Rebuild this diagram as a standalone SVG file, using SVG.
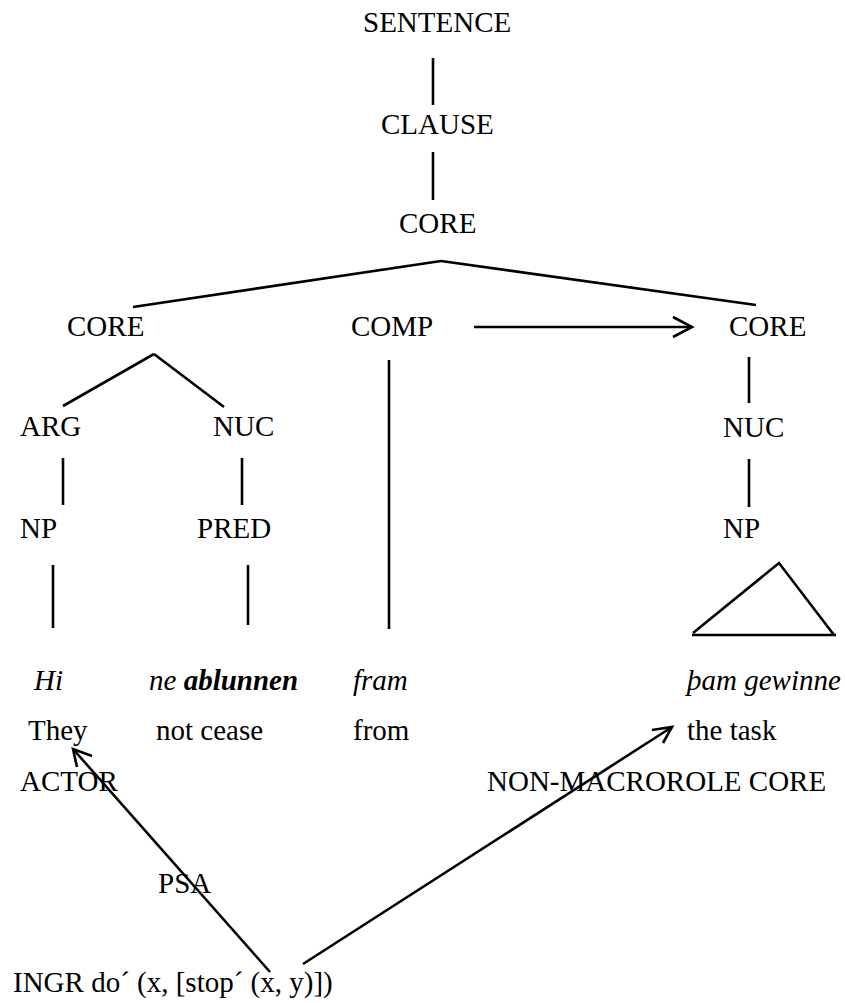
<svg xmlns="http://www.w3.org/2000/svg" width="845" height="1003" viewBox="0 0 845 1003">
  <defs>
    <style>
      text { font-family: "Liberation Serif", "Times New Roman", serif; font-size: 29px; fill: #000; }
      .it { font-style: italic; }
      .bi { font-style: italic; font-weight: bold; }
      line, path { stroke: #000; stroke-width: 2.6; fill: none; }
    </style>
  </defs>
  <rect width="845" height="1003" fill="#fff"/>

  <!-- tree branches and links -->
  <g id="connectors">
    <line x1="433" y1="58" x2="433" y2="105"/>
    <line x1="433" y1="152" x2="433" y2="200"/>
    <line x1="441" y1="261" x2="133" y2="307"/>
    <line x1="441" y1="261" x2="756" y2="305"/>
    <line x1="154" y1="354" x2="63" y2="406"/>
    <line x1="154" y1="354" x2="224" y2="407"/>
    <line x1="389" y1="360" x2="389" y2="629"/>
    <line x1="63" y1="458" x2="63" y2="505"/>
    <line x1="242" y1="458" x2="242" y2="505"/>
    <line x1="749" y1="357" x2="749" y2="403"/>
    <line x1="749" y1="459" x2="749" y2="507"/>
    <line x1="53" y1="565" x2="53" y2="628"/>
    <line x1="248" y1="565" x2="248" y2="625"/>
    <!-- COMP to CORE -->
    <line x1="474" y1="327" x2="692" y2="327"/>
    <path d="M673,317 L692,327 L673,337"/>
    <!-- semantic representation links -->
    <line x1="270" y1="972" x2="73" y2="749"/>
    <path d="M92,756 L73,749 L77,767"/>
    <line x1="303" y1="964" x2="672" y2="727"/>
    <path d="M652,730 L672,727 L663,743"/>
  </g>

  <g id="sentence"><text x="363" y="32">SENTENCE</text></g>
  <g id="clause"><text x="381" y="134">CLAUSE</text></g>
  <g id="core-top"><text x="399" y="233">CORE</text></g>
  <g id="core-left"><text x="67" y="336">CORE</text></g>
  <g id="comp"><text x="351" y="336">COMP</text></g>
  <g id="core-right"><text x="729" y="336">CORE</text></g>
  <g id="arg"><text x="20" y="436">ARG</text></g>
  <g id="nuc-left"><text x="213" y="436">NUC</text></g>
  <g id="nuc-right"><text x="723" y="437">NUC</text></g>
  <g id="np-left"><text x="20" y="538">NP</text></g>
  <g id="pred"><text x="197" y="538">PRED</text></g>
  <g id="np-right">
    <text x="723" y="538">NP</text>
    <path d="M693,633 L779,563 L834,635 M692,635 L836,635"/>
  </g>

  <g id="words">
    <text x="34" y="690" class="it">Hi</text>
    <text x="149" y="690"><tspan class="it">ne </tspan><tspan class="bi">ablunnen</tspan></text>
    <text x="353" y="690" class="it">fram</text>
    <text x="687" y="690" class="it">þam gewinne</text>
  </g>
  <g id="glosses">
    <text x="28" y="740">They</text>
    <text x="156" y="740">not cease</text>
    <text x="353" y="740">from</text>
    <text x="687" y="740">the task</text>
  </g>
  <g id="actor"><text x="20" y="791">ACTOR</text></g>
  <g id="nmr-core"><text x="487" y="791">NON-MACROROLE CORE</text></g>
  <g id="psa"><text x="158" y="893">PSA</text></g>
  <g id="logical-structure"><text x="13" y="992">INGR do´ (x, [stop´ (x, y)])</text></g>
</svg>
